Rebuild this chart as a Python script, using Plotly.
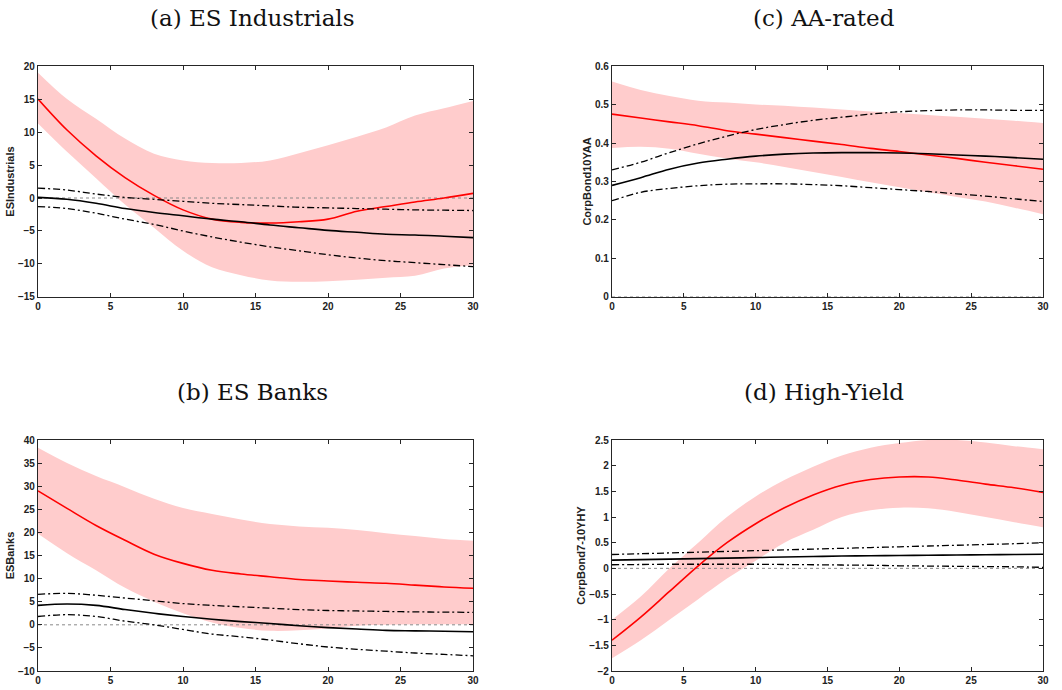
import plotly.graph_objects as go

x = list(range(0, 31, 2))

# (a) ES Industrials
a_red = [15, 10.3, 6.4, 3.1, 0.4, -1.8, -3.2, -3.7, -3.8, -3.6, -3.2, -2.0, -1.3, -0.6, 0.0, 0.7]
a_up = [19, 15, 12, 9, 6.7, 5.7, 5.3, 5.3, 5.7, 6.8, 8.0, 9.3, 10.7, 12.5, 13.6, 14.7]
a_lo = [11.3, 7, 3, -1, -4.5, -8, -10.5, -11.7, -12.5, -12.7, -12.6, -12.4, -12.1, -11.8, -10.7, -10.2]
a_blk = [0.1, -0.2, -0.8, -1.6, -2.2, -2.7, -3.2, -3.6, -4.1, -4.5, -4.9, -5.2, -5.5, -5.6, -5.8, -6.0]
a_bup = [1.5, 1.2, 0.6, 0.1, -0.2, -0.5, -0.8, -1.0, -1.2, -1.4, -1.5, -1.6, -1.7, -1.8, -1.85, -1.9]
a_blo = [-1.3, -1.6, -2.3, -3.2, -4.0, -5.0, -5.9, -6.7, -7.4, -8.0, -8.6, -9.1, -9.5, -9.8, -10.1, -10.4]

# (c) AA-rated
c_red = [0.475, 0.465, 0.455, 0.445, 0.432, 0.423, 0.414, 0.405, 0.396, 0.386, 0.378, 0.369, 0.36, 0.35, 0.341, 0.332]
c_up = [0.56, 0.538, 0.522, 0.51, 0.505, 0.5, 0.497, 0.492, 0.487, 0.482, 0.478, 0.473, 0.468, 0.463, 0.458, 0.452]
c_lo = [0.387, 0.39, 0.385, 0.372, 0.36, 0.35, 0.338, 0.325, 0.312, 0.298, 0.285, 0.272, 0.26, 0.248, 0.232, 0.215]
c_blk = [0.29, 0.31, 0.332, 0.348, 0.358, 0.366, 0.371, 0.374, 0.375, 0.375, 0.374, 0.372, 0.369, 0.366, 0.362, 0.358]
c_bup = [0.33, 0.35, 0.375, 0.398, 0.418, 0.435, 0.448, 0.459, 0.467, 0.475, 0.481, 0.484, 0.486, 0.486, 0.485, 0.485]
c_blo = [0.25, 0.272, 0.282, 0.289, 0.293, 0.294, 0.294, 0.292, 0.289, 0.284, 0.279, 0.274, 0.268, 0.262, 0.255, 0.248]

# (b) ES Banks
b_red = [29, 25.2, 21.5, 18.3, 15.3, 13.3, 11.8, 11.0, 10.4, 9.8, 9.5, 9.2, 9.0, 8.6, 8.2, 7.9]
b_up = [38.3, 35, 32.2, 29.8, 27.3, 25.3, 24, 22.8, 21.8, 21.3, 21, 20.5, 19.8, 19.2, 18.6, 18.2]
b_lo = [19.7, 15.5, 11.8, 8, 5, 2.5, 0.5, -0.7, -1.3, -1.2, -0.8, -0.2, 0, 0.1, 0.1, 0.1]
b_blk = [4.2, 4.5, 4.2, 3.3, 2.5, 1.8, 1.2, 0.7, 0.3, -0.2, -0.6, -0.9, -1.2, -1.3, -1.4, -1.5]
b_bup = [6.6, 6.8, 6.4, 5.8, 5.2, 4.6, 4.2, 3.9, 3.6, 3.3, 3.1, 3.0, 2.9, 2.8, 2.75, 2.7]
b_blo = [1.8, 2.2, 1.8, 0.8, 0.0, -1.0, -2.0, -2.6, -3.3, -4.1, -4.8, -5.3, -5.7, -6.1, -6.4, -6.7]

# (d) High-Yield
d_red = [-1.4, -0.95, -0.45, 0.05, 0.5, 0.87, 1.18, 1.43, 1.62, 1.73, 1.78, 1.78, 1.72, 1.64, 1.57, 1.48]
d_up = [-1.0, -0.55, 0.0, 0.5, 1.0, 1.4, 1.72, 1.98, 2.2, 2.35, 2.44, 2.5, 2.5, 2.45, 2.38, 2.32]
d_lo = [-1.75, -1.4, -1.0, -0.6, -0.2, 0.15, 0.5, 0.75, 1.0, 1.13, 1.18, 1.17, 1.1, 1.0, 0.9, 0.8]
d_blk = [0.16, 0.17, 0.18, 0.19, 0.2, 0.21, 0.22, 0.23, 0.24, 0.245, 0.25, 0.255, 0.26, 0.265, 0.27, 0.275]
d_bup = [0.27, 0.285, 0.3, 0.315, 0.33, 0.345, 0.36, 0.375, 0.39, 0.405, 0.42, 0.435, 0.45, 0.465, 0.48, 0.5]
d_blo = [0.07, 0.075, 0.08, 0.08, 0.08, 0.08, 0.075, 0.07, 0.065, 0.06, 0.05, 0.045, 0.04, 0.035, 0.03, 0.02]

panels = [
    dict(title="(a) ES Industrials", ylabel="ESIndustrials", red=a_red, up=a_up, lo=a_lo,
         blk=a_blk, bup=a_bup, blo=a_blo, yr=[-15, 20], dt=5, xd=[0.0358, 0.4454], yd=[0.5696, 0.9043]),
    dict(title="(c) AA-rated", ylabel="CorpBond10YAA", red=c_red, up=c_up, lo=c_lo,
         blk=c_blk, bup=c_bup, blo=c_blo, yr=[0, 0.6], dt=0.1, xd=[0.5763, 0.9821], yd=[0.5696, 0.9043]),
    dict(title="(b) ES Banks", ylabel="ESBanks", red=b_red, up=b_up, lo=b_lo,
         blk=b_blk, bup=b_bup, blo=b_blo, yr=[-10, 40], dt=5, xd=[0.0358, 0.4454], yd=[0.0275, 0.3623]),
    dict(title="(d) High-Yield", ylabel="CorpBond7-10YHY", red=d_red, up=d_up, lo=d_lo,
         blk=d_blk, bup=d_bup, blo=d_blo, yr=[-2, 2.5], dt=0.5, xd=[0.5763, 0.9821], yd=[0.0275, 0.3623]),
]

fig = go.Figure()
tickfont = dict(family="Liberation Sans", size=10, color="#222", weight="bold")
annotations = []
dashdot = "7px,3px,2px,3px"
for i, p in enumerate(panels, start=1):
    xa = "x" if i == 1 else f"x{i}"
    ya = "y" if i == 1 else f"y{i}"
    kw = dict(xaxis=xa, yaxis=ya, showlegend=False, hoverinfo="skip")
    fig.add_trace(go.Scatter(x=x, y=p["up"], mode="lines", line=dict(width=0, shape="spline"), **kw))
    fig.add_trace(go.Scatter(x=x, y=p["lo"], mode="lines", line=dict(width=0, shape="spline"),
                             fill="tonexty", fillcolor="rgb(255,204,204)", **kw))
    fig.add_trace(go.Scatter(x=[0, 30], y=[0, 0], mode="lines",
                             line=dict(color="#888", width=1, dash="dot"), **kw))
    fig.add_trace(go.Scatter(x=x, y=p["red"], mode="lines", line=dict(color="red", width=1.6, shape="spline"), **kw))
    fig.add_trace(go.Scatter(x=x, y=p["blk"], mode="lines", line=dict(color="black", width=1.6, shape="spline"), **kw))
    fig.add_trace(go.Scatter(x=x, y=p["bup"], mode="lines", line=dict(color="black", width=1.3, dash=dashdot, shape="spline"), **kw))
    fig.add_trace(go.Scatter(x=x, y=p["blo"], mode="lines", line=dict(color="black", width=1.3, dash=dashdot, shape="spline"), **kw))

    axcommon = dict(showline=True, linecolor="#262626", linewidth=1.2, mirror="allticks",
                    ticks="inside", ticklen=4, tickcolor="#262626", showgrid=False,
                    zeroline=False, tickfont=tickfont, automargin=False)
    fig.update_layout(**{
        ("xaxis" if i == 1 else f"xaxis{i}"): dict(domain=p["xd"], range=[0, 30], dtick=5, tick0=0,
                                                   anchor=ya, **axcommon),
        ("yaxis" if i == 1 else f"yaxis{i}"): dict(domain=p["yd"], range=p["yr"], dtick=p["dt"], tick0=0,
                                                   anchor=xa, title=dict(text=p["ylabel"], standoff=1,
                                                   font=dict(family="Liberation Sans", size=11, color="#222", weight="bold")),
                                                   **axcommon),
    })
    annotations.append(dict(text=p["title"], xref="paper", yref="paper",
                            x=(p["xd"][0] + p["xd"][1]) / 2 - 0.003, y=p["yd"][1] + 0.0696,
                            xanchor="center", yanchor="middle", showarrow=False,
                            font=dict(family="DejaVu Serif", size=23, color="#111")))

fig.update_layout(width=1062, height=690, margin=dict(l=0, r=0, t=0, b=0),
                  plot_bgcolor="white", paper_bgcolor="white", annotations=annotations)

fig.write_html("out.html", config={"displayModeBar": False},
               post_script="document.body.style.margin='0';document.body.style.overflow='hidden';")
